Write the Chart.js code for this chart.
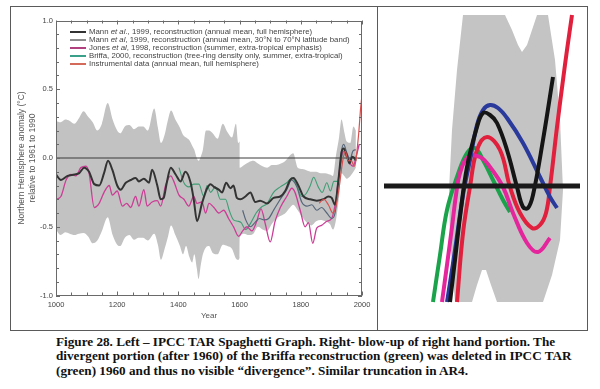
<!DOCTYPE html>
<html><head><meta charset="utf-8">
<script src="https://cdn.jsdelivr.net/npm/chart.js@4.4.1/dist/chart.umd.min.js"></script>
<style>
html,body{margin:0;padding:0;background:#fff;}
#root{position:relative;width:600px;height:389px;overflow:hidden;background:#fff;}
#frame{position:absolute;left:10px;top:6px;width:578px;height:325px;border:1px solid #5a5a5a;box-sizing:border-box;}
#divider{position:absolute;left:377px;top:6px;width:1px;height:325px;background:#5a5a5a;}
#leftChart{position:absolute;left:11px;top:7px;}
#rightChart{position:absolute;left:380px;top:7px;}
#legend{position:absolute;left:70px;top:28px;font-family:"Liberation Sans",Arial,sans-serif;font-size:7.8px;color:#444;}
.row{position:absolute;left:0;white-space:nowrap;height:8px;line-height:8px;display:flex;align-items:center;}
.swatch{display:block;flex:none;width:16px;height:2px;margin-right:3px;}
#caption{position:absolute;left:56px;top:335px;font-family:"Liberation Serif","Times New Roman",serif;font-weight:bold;font-size:13.2px;line-height:14.3px;color:#111;white-space:nowrap;}
</style></head>
<body>
<div id="root">
  <div id="frame"></div>
  <div id="divider"></div>
  <canvas id="leftChart" width="366" height="322"></canvas>
  <canvas id="rightChart" width="206" height="322"></canvas>
  <div id="legend"></div>
  <div id="caption"></div>
</div>
<script>
// ---------- Left panel: IPCC TAR "spaghetti" graph ----------
const xTickValues = [1000, 1200, 1400, 1600, 1800, 2000];
const yTickValues = [-1.0, -0.5, 0.0, 0.5, 1.0];
const yTitleLines = ['Northern Hemisphere anomaly (°C)', 'relative to 1961 to 1990'];
const xTitle = 'Year';

// Uncertainty band (Mann et al. 1999)
const bandYears = [1000,1015,1030,1045,1060,1075,1090,1105,1120,1135,1150,1169,1185,1200,1210,1225,1240,1255,1270,1285,1300,1321,1333,1343,1355,1365,1376,1390,1405,1415,1425,1436,1445,1452,1460,1466,1473,1480,1490,1500,1512,1528,1545,1560,1575,1588,1596,1600,
  1600.1,1615,1630,1645,1660,1675,1690,1705,1720,1735,1750,1765,1775,1790,1805,1820,1835,1850,1865,1880,1895,1905,1915,1925,1933,1942,1950,1962,1972,1980];
const bandUpper = [0.27,0.26,0.28,0.27,0.25,0.29,0.34,0.30,0.26,0.20,0.25,0.40,0.28,0.20,0.18,0.23,0.24,0.21,0.23,0.23,0.20,0.36,0.22,0.11,0.17,0.27,0.345,0.28,0.22,0.17,0.15,0.13,0.09,0.06,0.00,-0.02,0.01,0.06,0.20,0.20,0.18,0.14,0.25,0.19,0.15,0.25,0.11,0.12,
  -0.07,-0.05,-0.03,-0.02,-0.04,-0.06,-0.07,-0.05,-0.05,-0.04,-0.02,0.02,0.035,-0.07,-0.08,-0.09,-0.10,-0.10,-0.11,-0.11,-0.12,-0.13,0.02,0.15,0.28,0.19,0.12,0.11,0.23,0.20];
const bandLower = [-0.52,-0.56,-0.54,-0.55,-0.56,-0.55,-0.545,-0.57,-0.62,-0.60,-0.53,-0.43,-0.56,-0.63,-0.64,-0.58,-0.56,-0.595,-0.58,-0.58,-0.60,-0.55,-0.63,-0.74,-0.66,-0.58,-0.49,-0.56,-0.64,-0.70,-0.64,-0.72,-0.76,-0.70,-0.80,-0.88,-0.78,-0.70,-0.65,-0.64,-0.69,-0.70,-0.63,-0.64,-0.66,-0.73,-0.74,-0.72,
  -0.58,-0.55,-0.56,-0.55,-0.50,-0.52,-0.53,-0.48,-0.44,-0.42,-0.40,-0.36,-0.34,-0.38,-0.43,-0.47,-0.49,-0.46,-0.45,-0.46,-0.48,-0.52,-0.45,-0.28,-0.11,-0.13,-0.15,-0.13,-0.10,-0.07];

// Mann et al. 1999, full hemisphere (black)
const mannYears = [1000,1016,1038,1060,1076,1092,1108,1125,1141,1157,1170,1184,1200,1211,1228,1244,1260,1271,1287,1304,1314,1331,1342,1352,1362,1375,1391,1407,1423,1440,1450,1461,1477,1494,1505,1516,1532,1543,1556,1570,1580,1591,1602,1619,1635,1651,1667,1690,1711,1733,1749,1765,1776,1792,1809,1831,1852,1874,1890,1901,1912,1922,1933,1940,1950,1959,1968,1975,1980];
const mannValues = [-0.12,-0.16,-0.13,-0.12,-0.11,-0.07,-0.10,-0.19,-0.20,-0.11,-0.02,-0.085,-0.20,-0.23,-0.18,-0.16,-0.145,-0.17,-0.15,-0.18,-0.085,-0.20,-0.30,-0.29,-0.18,-0.07,-0.12,-0.17,-0.10,-0.18,-0.30,-0.46,-0.33,-0.22,-0.19,-0.21,-0.23,-0.25,-0.18,-0.22,-0.20,-0.29,-0.30,-0.28,-0.25,-0.32,-0.31,-0.33,-0.29,-0.28,-0.24,-0.16,-0.145,-0.20,-0.28,-0.30,-0.31,-0.30,-0.28,-0.29,-0.34,-0.18,0.04,0.07,0.02,-0.04,0.01,0.00,-0.02];

// Mann et al. 1999, 30N-70N band
const mannBandYears = [1610,1620,1635,1650,1665,1680,1695,1711,1733,1754,1770,1787,1803,1820,1836,1852,1868,1885,1901,1912,1922,1933,1940,1950,1961,1970,1980];
const mannBandValues = [-0.38,-0.45,-0.50,-0.47,-0.44,-0.45,-0.44,-0.38,-0.30,-0.23,-0.16,-0.21,-0.32,-0.35,-0.34,-0.38,-0.36,-0.40,-0.44,-0.40,-0.20,0.05,0.10,0.04,-0.01,0.05,0.06];

// Jones et al. 1998 (magenta)
const jonesYears = [1000,1016,1033,1049,1065,1081,1098,1108,1125,1141,1157,1174,1184,1200,1217,1231,1244,1260,1271,1287,1298,1314,1331,1342,1358,1375,1385,1402,1418,1434,1450,1461,1477,1489,1500,1516,1532,1548,1564,1580,1597,1610,1624,1640,1656,1670,1684,1700,1716,1733,1754,1771,1781,1798,1814,1825,1839,1852,1868,1885,1901,1915,1928,1939,1950,1961,1971,1982,1991];
const jonesValues = [-0.30,-0.28,-0.16,-0.12,-0.13,-0.07,-0.06,-0.11,-0.36,-0.33,-0.25,-0.20,-0.27,-0.24,-0.35,-0.33,-0.36,-0.28,-0.35,-0.23,-0.35,-0.32,-0.31,-0.35,-0.20,-0.13,-0.17,-0.27,-0.30,-0.35,-0.28,-0.33,-0.32,-0.40,-0.33,-0.36,-0.40,-0.38,-0.44,-0.50,-0.57,-0.53,-0.50,-0.53,-0.46,-0.37,-0.48,-0.61,-0.46,-0.36,-0.28,-0.22,-0.25,-0.38,-0.50,-0.47,-0.62,-0.51,-0.49,-0.46,-0.44,-0.30,-0.06,0.05,0.03,-0.04,-0.06,0.02,0.10];

// Briffa 2000 (green)
const briffaYears = [1402,1418,1434,1450,1467,1483,1494,1505,1521,1537,1554,1566,1580,1594,1605,1620,1637,1654,1670,1690,1711,1733,1754,1771,1787,1803,1817,1831,1842,1857,1870,1885,1897,1908,1920,1930,1938,1948,1958];
const briffaValues = [-0.07,-0.18,-0.21,-0.19,-0.19,-0.28,-0.20,-0.25,-0.21,-0.30,-0.30,-0.38,-0.45,-0.46,-0.47,-0.52,-0.47,-0.40,-0.36,-0.33,-0.25,-0.21,-0.18,-0.145,-0.20,-0.28,-0.26,-0.20,-0.14,-0.21,-0.25,-0.18,-0.24,-0.17,-0.17,-0.06,0.04,0.01,-0.03];

// Instrumental data (red)
const instrYears = [1860,1875,1890,1905,1915,1925,1935,1945,1955,1965,1975,1980,1985,1990,1995,1999];
const instrValues = [-0.33,-0.30,-0.34,-0.40,-0.35,-0.22,-0.05,0.05,-0.02,-0.02,-0.06,-0.02,0.08,0.20,0.35,0.44];

const zeroLineYears = [1000, 2000];
const zeroLineValues = [0, 0];

const seriesLabels = [
  'Mann et al., 1999, reconstruction (annual mean, full hemisphere)',
  'Mann et al, 1999, reconstruction (annual mean, 30°N to 70°N latitude band)',
  'Jones et al, 1998, reconstruction (summer, extra-tropical emphasis)',
  'Briffa, 2000, reconstruction (tree-ring density only, summer, extra-tropical)',
  'Instrumental data (annual mean, full hemisphere)'
];
const seriesColors = ['#333333', '#56667a', '#cc3d96', '#3f9d75', '#d9504f'];
const legendColors = ['#333333', '#8c8c8c', '#b0407e', '#3aa08a', '#d46a5a'];

// ---------- Right panel: blow-up of the right-hand portion ----------
const blowBandX = [1931.5,1952.5,1956,1959,1961,1963.5,1966,1968.5,1974,1977.5,1980,1981.5,1980,1976,1971.5,1948.5,1945.5,1943,1941,1938.5,1936,1927.5,1925,1924.5,1926,1928.5,1931.5];
const blowBandY = [0.684,0.684,0.624,0.564,0.536,0.564,0.624,0.684,0.684,0.504,0.264,-0.016,-0.216,-0.356,-0.464,-0.464,-0.396,-0.336,-0.336,-0.396,-0.464,-0.464,-0.216,-0.016,0.224,0.464,0.684];
const blowGreenX = [1916.5,1920,1923.5,1928.5,1933.5,1937.5,1941.5,1946.5,1951.5,1955];
const blowGreenY = [-0.464,-0.276,-0.096,0.036,0.132,0.152,0.104,0.024,-0.056,-0.104];
const blowMagentaX = [1921,1923.5,1926,1928,1930,1934,1940,1945,1951.5,1956.5,1963.5,1969,1975];
const blowMagentaY = [-0.464,-0.316,-0.164,-0.036,0.052,0.116,0.116,0.076,-0.004,-0.108,-0.228,-0.264,-0.208];
const blowBlueX = [1923.5,1927.5,1931.5,1935,1938.5,1941.5,1945,1949,1953.5,1961.5,1970,1975,1978.5];
const blowBlueY = [-0.464,-0.256,-0.036,0.104,0.244,0.304,0.324,0.312,0.272,0.172,0.036,-0.044,-0.088];
const blowBlackX = [1925,1927.5,1930,1933.5,1938.5,1941.5,1945,1948.5,1953.5,1958.5,1961.5,1964,1966.5,1971.5,1976.5];
const blowBlackY = [-0.464,-0.296,-0.124,0.076,0.236,0.292,0.284,0.252,0.144,-0.004,-0.084,-0.088,-0.036,0.184,0.436];
const blowRedX = [1928.5,1931.5,1935,1938.5,1943.5,1950,1955,1960,1966,1970,1973,1975,1978.5,1981.5,1983.5,1986];
const blowRedY = [-0.464,-0.188,-0.004,0.144,0.196,0.144,-0.004,-0.108,-0.168,-0.156,-0.108,-0.004,0.236,0.424,0.544,0.684];
const blowZeroX = [1892, 1990];
const blowZeroY = [0, 0];

const captionLines = [
  'Figure 28. Left \u2013 IPCC TAR Spaghetti Graph. Right- blow-up of right hand portion. The',
  'divergent portion (after 1960) of the Briffa reconstruction (green) was deleted in IPCC TAR',
  '(green) 1960 and thus no visible \u201cdivergence\u201d. Similar truncation in AR4.'
];

// ---------- helpers ----------
const toXY = (xs, ys) => xs.map((x, i) => ({x: x, y: ys[i]}));
const FONT = '"Liberation Sans", Arial, sans-serif';

const frameTicks = {
  id: 'frameTicks',
  afterDatasetsDraw(chart) {
    const {ctx, chartArea, scales} = chart;
    const {left, right, top, bottom} = chartArea;
    ctx.save();
    ctx.strokeStyle = '#6a6a6a';
    ctx.lineWidth = 1;
    ctx.strokeRect(Math.round(left) + 0.5, Math.round(top) + 0.5, Math.round(right - left) - 1, Math.round(bottom - top) - 1);
    ctx.beginPath();
    for (let yr = 1000; yr <= 2000; yr += 50) {
      const px = Math.round(scales.x.getPixelForValue(yr)) + 0.5;
      const len = (yr % 200 === 0) ? 4 : 3;
      ctx.moveTo(px, bottom); ctx.lineTo(px, bottom - len);
      ctx.moveTo(px, top); ctx.lineTo(px, top + len);
    }
    for (let k = -10; k <= 10; k++) {
      const py = Math.round(scales.y.getPixelForValue(k / 10)) + 0.5;
      const len = (k % 5 === 0) ? 4 : 3;
      ctx.moveTo(left, py); ctx.lineTo(left + len, py);
      ctx.moveTo(right, py); ctx.lineTo(right - len, py);
    }
    ctx.stroke();
    ctx.restore();
  }
};

const lineDS = (label, xs, ys, color, width, order) => ({
  label: label, data: toXY(xs, ys), borderColor: color, backgroundColor: color,
  borderWidth: width, pointRadius: 0, fill: false, cubicInterpolationMode: 'monotone', order: order
});

new Chart(document.getElementById('leftChart'), {
  type: 'line',
  data: {
    datasets: [
      {label: 'band upper', data: toXY(bandYears, bandUpper), borderColor: 'rgba(0,0,0,0)', borderWidth: 0, pointRadius: 0,
       fill: '+1', backgroundColor: '#c2c2c2', cubicInterpolationMode: 'monotone', order: 20},
      {label: 'band lower', data: toXY(bandYears, bandLower), borderColor: 'rgba(0,0,0,0)', borderWidth: 0, pointRadius: 0,
       fill: false, cubicInterpolationMode: 'monotone', order: 21},
      {label: 'zero', data: toXY(zeroLineYears, zeroLineValues), borderColor: '#3a3a3a', borderWidth: 1, pointRadius: 0, fill: false, order: 15},
      lineDS(seriesLabels[3], briffaYears, briffaValues, seriesColors[3], 1.1, 6),
      lineDS(seriesLabels[2], jonesYears, jonesValues, seriesColors[2], 1.3, 5),
      lineDS(seriesLabels[1], mannBandYears, mannBandValues, seriesColors[1], 1.2, 4),
      lineDS(seriesLabels[0], mannYears, mannValues, seriesColors[0], 2, 3),
      lineDS(seriesLabels[4], instrYears, instrValues, seriesColors[4], 1.2, 2)
    ]
  },
  options: {
    responsive: false, animation: false, events: [],
    layout: {padding: {top: 13.5, right: 15, left: 0, bottom: 0}},
    plugins: {legend: {display: false}, tooltip: {enabled: false}},
    scales: {
      x: {
        type: 'linear', min: 1000, max: 2000,
        afterBuildTicks: s => { s.ticks = xTickValues.map(v => ({value: v})); },
        afterFit: s => { s.height = 33.5; },
        grid: {display: false, drawTicks: false}, border: {display: false},
        ticks: {autoSkip: false, maxRotation: 0, padding: 5, color: '#444', font: {family: FONT, size: 7.5}, callback: v => String(v)},
        title: {display: true, text: xTitle, color: '#555', font: {family: FONT, size: 8, lineHeight: 1.2}, padding: {top: 0, bottom: 8}}
      },
      y: {
        type: 'linear', min: -1, max: 1,
        afterBuildTicks: s => { s.ticks = yTickValues.map(v => ({value: v})); },
        afterFit: s => { s.width = 45; },
        grid: {display: false, drawTicks: false}, border: {display: false},
        ticks: {padding: 3, color: '#444', font: {family: FONT, size: 7.5}, callback: v => Number(v).toFixed(1)},
        title: {display: true, text: yTitleLines, color: '#555', font: {family: FONT, size: 8.5, lineHeight: 1.3}, padding: {top: 5.5, bottom: 0}}
      }
    }
  },
  plugins: [frameTicks]
});

// Legend (HTML, inside the plot area)
const legendEl = document.getElementById('legend');
seriesLabels.forEach((lab, i) => {
  const row = document.createElement('div');
  row.className = 'row';
  row.style.top = Math.round(i * 7.9) + 'px';
  const sw = document.createElement('span');
  sw.className = 'swatch';
  sw.style.backgroundColor = legendColors[i];
  row.appendChild(sw);
  const txt = document.createElement('span');
  txt.innerHTML = lab.replace('et al', '<i>et al</i>');
  row.appendChild(txt);
  legendEl.appendChild(row);
});

// Right panel chart
const blowDS = (label, xs, ys, color, order) => ({
  label: label, data: toXY(xs, ys), borderColor: color, borderWidth: 4, pointRadius: 0,
  fill: false, tension: 0.4, order: order
});
new Chart(document.getElementById('rightChart'), {
  type: 'line',
  data: {
    datasets: [
      {label: 'band', data: toXY(blowBandX, blowBandY), fill: 'shape', backgroundColor: '#c4c4c4',
       borderColor: 'rgba(0,0,0,0)', borderWidth: 0, pointRadius: 0, tension: 0, order: 10},
      blowDS('Briffa', blowGreenX, blowGreenY, '#1aa34a', 6),
      blowDS('Instrumental', blowRedX, blowRedY, '#e0203c', 5),
      blowDS('Jones', blowMagentaX, blowMagentaY, '#e4259c', 4),
      blowDS('Mann 30-70N', blowBlueX, blowBlueY, '#2a3a9c', 3),
      blowDS('Mann', blowBlackX, blowBlackY, '#151515', 2),
      {label: 'zero', data: toXY(blowZeroX, blowZeroY), borderColor: '#1a1a1a', borderWidth: 5, pointRadius: 0, fill: false, order: 1}
    ]
  },
  options: {
    responsive: false, animation: false, events: [],
    layout: {padding: 0},
    plugins: {legend: {display: false}, tooltip: {enabled: false}},
    scales: {
      x: {type: 'linear', display: false, min: 1890, max: 1993},
      y: {type: 'linear', display: false, min: -0.572, max: 0.716}
    }
  }
});

// Caption
document.getElementById('caption').innerHTML = captionLines.join('<br>');
</script>
</body></html>
